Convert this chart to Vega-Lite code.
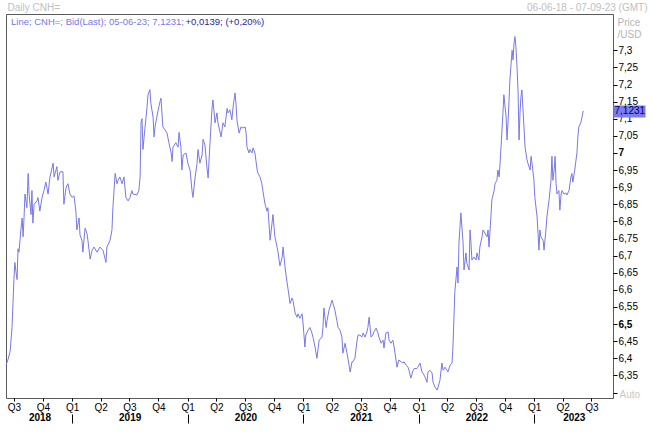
{
  "$schema": "https://vega.github.io/schema/vega-lite/v6.json",
  "width": 607,
  "height": 384,
  "autosize": {"type": "none"},
  "padding": {"left": 6, "top": 14, "right": 39, "bottom": 42},
  "background": "white",
  "config": {
    "font": "Liberation Sans",
    "view": {"stroke": "#5a5a5a", "strokeWidth": 1},
    "axis": {"grid": false, "domain": false, "labelFont": "Liberation Sans", "labelFontSize": 10, "labelColor": "#000000", "tickColor": "#000000", "labelOverlap": false, "labelFlush": false, "labelBound": false}
  },
  "resolve": {"axis": {"x": "independent", "y": "independent"}},
  "layer": [
    {
      "data": {"values": [
        {"date":"2018-06-06","price":6.38},{"date":"2018-06-12","price":6.395},{"date":"2018-06-19","price":6.42},{"date":"2018-06-25","price":6.49},{"date":"2018-06-28","price":6.56},{"date":"2018-07-01","price":6.63},{"date":"2018-07-04","price":6.68},{"date":"2018-07-08","price":6.65},{"date":"2018-07-11","price":6.63},{"date":"2018-07-14","price":6.72},{"date":"2018-07-17","price":6.71},{"date":"2018-07-23","price":6.775},{"date":"2018-07-27","price":6.81},{"date":"2018-07-30","price":6.755},{"date":"2018-08-02","price":6.81},{"date":"2018-08-05","price":6.88},{"date":"2018-08-11","price":6.84},{"date":"2018-08-15","price":6.94},{"date":"2018-08-18","price":6.88},{"date":"2018-08-24","price":6.82},{"date":"2018-08-27","price":6.89},{"date":"2018-08-30","price":6.795},{"date":"2018-09-03","price":6.85},{"date":"2018-09-12","price":6.86},{"date":"2018-09-15","price":6.87},{"date":"2018-09-21","price":6.83},{"date":"2018-09-28","price":6.87},{"date":"2018-10-04","price":6.89},{"date":"2018-10-10","price":6.915},{"date":"2018-10-17","price":6.88},{"date":"2018-10-23","price":6.93},{"date":"2018-11-02","price":6.97},{"date":"2018-11-05","price":6.93},{"date":"2018-11-14","price":6.96},{"date":"2018-11-17","price":6.92},{"date":"2018-11-24","price":6.945},{"date":"2018-12-03","price":6.945},{"date":"2018-12-06","price":6.85},{"date":"2018-12-13","price":6.9},{"date":"2018-12-19","price":6.91},{"date":"2018-12-25","price":6.88},
        {"date":"2019-01-01","price":6.87},{"date":"2019-01-07","price":6.875},{"date":"2019-01-13","price":6.83},{"date":"2019-01-16","price":6.775},{"date":"2019-01-23","price":6.81},{"date":"2019-01-26","price":6.76},{"date":"2019-02-01","price":6.745},{"date":"2019-02-04","price":6.71},{"date":"2019-02-11","price":6.78},{"date":"2019-02-17","price":6.765},{"date":"2019-02-20","price":6.745},{"date":"2019-02-27","price":6.69},{"date":"2019-03-05","price":6.715},{"date":"2019-03-11","price":6.725},{"date":"2019-03-21","price":6.71},{"date":"2019-03-30","price":6.725},{"date":"2019-04-09","price":6.715},{"date":"2019-04-18","price":6.68},{"date":"2019-04-21","price":6.725},{"date":"2019-05-01","price":6.745},{"date":"2019-05-07","price":6.775},{"date":"2019-05-10","price":6.84},{"date":"2019-05-17","price":6.94},{"date":"2019-05-23","price":6.91},{"date":"2019-05-26","price":6.92},{"date":"2019-06-01","price":6.93},{"date":"2019-06-08","price":6.91},{"date":"2019-06-14","price":6.93},{"date":"2019-06-20","price":6.87},{"date":"2019-06-27","price":6.86},{"date":"2019-07-03","price":6.87},{"date":"2019-07-09","price":6.89},{"date":"2019-07-12","price":6.88},{"date":"2019-07-25","price":6.877},{"date":"2019-07-31","price":6.89},{"date":"2019-08-04","price":6.93},{"date":"2019-08-07","price":7.09},{"date":"2019-08-10","price":7.1},{"date":"2019-08-13","price":7.01},{"date":"2019-08-19","price":7.07},{"date":"2019-08-26","price":7.135},{"date":"2019-08-29","price":7.17},{"date":"2019-09-04","price":7.185},{"date":"2019-09-07","price":7.145},{"date":"2019-09-14","price":7.105},{"date":"2019-09-17","price":7.047},{"date":"2019-09-20","price":7.076},{"date":"2019-09-26","price":7.105},{"date":"2019-09-30","price":7.125},{"date":"2019-10-06","price":7.15},{"date":"2019-10-09","price":7.16},{"date":"2019-10-12","price":7.117},{"date":"2019-10-15","price":7.076},{"date":"2019-10-22","price":7.067},{"date":"2019-10-28","price":7.058},{"date":"2019-11-03","price":7.03},{"date":"2019-11-10","price":7.0},{"date":"2019-11-13","price":6.975},{"date":"2019-11-16","price":7.017},{"date":"2019-11-25","price":7.03},{"date":"2019-12-02","price":7.017},{"date":"2019-12-05","price":7.06},{"date":"2019-12-11","price":7.017},{"date":"2019-12-14","price":6.95},{"date":"2019-12-18","price":6.994},{"date":"2019-12-27","price":7.0},
        {"date":"2020-01-02","price":6.97},{"date":"2020-01-09","price":6.95},{"date":"2020-01-15","price":6.89},{"date":"2020-01-18","price":6.87},{"date":"2020-01-25","price":6.93},{"date":"2020-01-31","price":6.97},{"date":"2020-02-03","price":7.01},{"date":"2020-02-09","price":6.97},{"date":"2020-02-16","price":6.994},{"date":"2020-02-19","price":7.04},{"date":"2020-02-25","price":7.023},{"date":"2020-03-02","price":6.96},{"date":"2020-03-06","price":6.927},{"date":"2020-03-12","price":7.03},{"date":"2020-03-18","price":7.126},{"date":"2020-03-21","price":7.155},{"date":"2020-03-28","price":7.088},{"date":"2020-04-03","price":7.117},{"date":"2020-04-06","price":7.088},{"date":"2020-04-16","price":7.047},{"date":"2020-04-22","price":7.088},{"date":"2020-04-28","price":7.076},{"date":"2020-05-05","price":7.13},{"date":"2020-05-08","price":7.117},{"date":"2020-05-14","price":7.126},{"date":"2020-05-20","price":7.097},{"date":"2020-05-24","price":7.135},{"date":"2020-05-30","price":7.175},{"date":"2020-06-02","price":7.146},{"date":"2020-06-05","price":7.097},{"date":"2020-06-12","price":7.058},{"date":"2020-06-18","price":7.076},{"date":"2020-06-24","price":7.073},{"date":"2020-07-01","price":7.076},{"date":"2020-07-04","price":7.058},{"date":"2020-07-07","price":7.017},{"date":"2020-07-13","price":7.0},{"date":"2020-07-16","price":7.01},{"date":"2020-07-23","price":7.0},{"date":"2020-07-26","price":7.015},{"date":"2020-08-01","price":7.0},{"date":"2020-08-08","price":6.95},{"date":"2020-08-11","price":6.94},{"date":"2020-08-17","price":6.93},{"date":"2020-08-23","price":6.91},{"date":"2020-08-26","price":6.89},{"date":"2020-09-02","price":6.85},{"date":"2020-09-08","price":6.83},{"date":"2020-09-11","price":6.84},{"date":"2020-09-18","price":6.745},{"date":"2020-09-24","price":6.795},{"date":"2020-09-27","price":6.82},{"date":"2020-10-03","price":6.755},{"date":"2020-10-10","price":6.725},{"date":"2020-10-13","price":6.71},{"date":"2020-10-19","price":6.67},{"date":"2020-10-26","price":6.695},{"date":"2020-10-29","price":6.725},{"date":"2020-11-04","price":6.667},{"date":"2020-11-10","price":6.625},{"date":"2020-11-14","price":6.6},{"date":"2020-11-20","price":6.56},{"date":"2020-11-26","price":6.576},{"date":"2020-11-29","price":6.57},{"date":"2020-12-06","price":6.532},{"date":"2020-12-12","price":6.52},{"date":"2020-12-15","price":6.53},{"date":"2020-12-21","price":6.517},{"date":"2020-12-28","price":6.53},{"date":"2020-12-31","price":6.503},
        {"date":"2021-01-06","price":6.433},{"date":"2021-01-09","price":6.468},{"date":"2021-01-16","price":6.482},{"date":"2021-01-22","price":6.49},{"date":"2021-01-28","price":6.474},{"date":"2021-02-01","price":6.46},{"date":"2021-02-07","price":6.433},{"date":"2021-02-13","price":6.4},{"date":"2021-02-20","price":6.453},{"date":"2021-03-01","price":6.462},{"date":"2021-03-04","price":6.49},{"date":"2021-03-07","price":6.547},{"date":"2021-03-14","price":6.49},{"date":"2021-03-17","price":6.51},{"date":"2021-03-23","price":6.54},{"date":"2021-04-02","price":6.57},{"date":"2021-04-05","price":6.56},{"date":"2021-04-11","price":6.54},{"date":"2021-04-17","price":6.51},{"date":"2021-04-21","price":6.49},{"date":"2021-04-27","price":6.482},{"date":"2021-05-03","price":6.462},{"date":"2021-05-06","price":6.415},{"date":"2021-05-13","price":6.444},{"date":"2021-05-19","price":6.415},{"date":"2021-05-22","price":6.4},{"date":"2021-05-29","price":6.36},{"date":"2021-06-04","price":6.39},{"date":"2021-06-07","price":6.39},{"date":"2021-06-13","price":6.4},{"date":"2021-06-20","price":6.453},{"date":"2021-06-23","price":6.468},{"date":"2021-06-29","price":6.468},{"date":"2021-07-05","price":6.462},{"date":"2021-07-09","price":6.474},{"date":"2021-07-15","price":6.462},{"date":"2021-07-21","price":6.477},{"date":"2021-07-24","price":6.49},{"date":"2021-07-28","price":6.52},{"date":"2021-08-03","price":6.462},{"date":"2021-08-09","price":6.468},{"date":"2021-08-12","price":6.477},{"date":"2021-08-19","price":6.488},{"date":"2021-08-25","price":6.474},{"date":"2021-08-28","price":6.462},{"date":"2021-09-04","price":6.444},{"date":"2021-09-10","price":6.453},{"date":"2021-09-13","price":6.43},{"date":"2021-09-19","price":6.474},{"date":"2021-09-26","price":6.477},{"date":"2021-09-29","price":6.453},{"date":"2021-10-05","price":6.444},{"date":"2021-10-11","price":6.453},{"date":"2021-10-15","price":6.433},{"date":"2021-10-21","price":6.395},{"date":"2021-10-24","price":6.374},{"date":"2021-10-30","price":6.395},{"date":"2021-11-06","price":6.39},{"date":"2021-11-12","price":6.386},{"date":"2021-11-15","price":6.39},{"date":"2021-11-22","price":6.38},{"date":"2021-11-28","price":6.374},{"date":"2021-12-01","price":6.365},{"date":"2021-12-07","price":6.342},{"date":"2021-12-14","price":6.365},{"date":"2021-12-17","price":6.37},{"date":"2021-12-26","price":6.37},{"date":"2021-12-29","price":6.374},
        {"date":"2022-01-05","price":6.386},{"date":"2022-01-11","price":6.36},{"date":"2022-01-14","price":6.357},{"date":"2022-01-21","price":6.345},{"date":"2022-01-27","price":6.33},{"date":"2022-01-30","price":6.36},{"date":"2022-02-05","price":6.365},{"date":"2022-02-12","price":6.357},{"date":"2022-02-15","price":6.33},{"date":"2022-02-21","price":6.316},{"date":"2022-02-28","price":6.307},{"date":"2022-03-03","price":6.316},{"date":"2022-03-09","price":6.336},{"date":"2022-03-15","price":6.386},{"date":"2022-03-19","price":6.365},{"date":"2022-03-25","price":6.374},{"date":"2022-03-31","price":6.365},{"date":"2022-04-03","price":6.36},{"date":"2022-04-10","price":6.38},{"date":"2022-04-16","price":6.386},{"date":"2022-04-19","price":6.433},{"date":"2022-04-25","price":6.595},{"date":"2022-05-02","price":6.667},{"date":"2022-05-05","price":6.62},{"date":"2022-05-08","price":6.737},{"date":"2022-05-11","price":6.78},{"date":"2022-05-14","price":6.825},{"date":"2022-05-18","price":6.775},{"date":"2022-05-21","price":6.737},{"date":"2022-05-24","price":6.658},{"date":"2022-05-30","price":6.708},{"date":"2022-06-02","price":6.678},{"date":"2022-06-09","price":6.658},{"date":"2022-06-12","price":6.775},{"date":"2022-06-15","price":6.737},{"date":"2022-06-18","price":6.687},{"date":"2022-06-25","price":6.696},{"date":"2022-07-01","price":6.687},{"date":"2022-07-04","price":6.708},{"date":"2022-07-10","price":6.687},{"date":"2022-07-13","price":6.725},{"date":"2022-07-20","price":6.755},{"date":"2022-07-23","price":6.775},{"date":"2022-07-29","price":6.766},{"date":"2022-08-05","price":6.755},{"date":"2022-08-08","price":6.775},{"date":"2022-08-11","price":6.725},{"date":"2022-08-17","price":6.813},{"date":"2022-08-20","price":6.863},{"date":"2022-08-27","price":6.89},{"date":"2022-08-30","price":6.91},{"date":"2022-09-05","price":6.92},{"date":"2022-09-08","price":6.95},{"date":"2022-09-12","price":6.93},{"date":"2022-09-15","price":6.97},{"date":"2022-09-18","price":7.017},{"date":"2022-09-21","price":7.067},{"date":"2022-09-24","price":7.117},{"date":"2022-09-27","price":7.17},{"date":"2022-10-04","price":7.105},{"date":"2022-10-07","price":7.038},{"date":"2022-10-10","price":7.088},{"date":"2022-10-13","price":7.146},{"date":"2022-10-16","price":7.213},{"date":"2022-10-20","price":7.263},{"date":"2022-10-23","price":7.3},{"date":"2022-10-26","price":7.272},{"date":"2022-10-29","price":7.32},{"date":"2022-11-01","price":7.34},{"date":"2022-11-04","price":7.31},{"date":"2022-11-08","price":7.243},{"date":"2022-11-11","price":7.175},{"date":"2022-11-14","price":7.038},{"date":"2022-11-17","price":7.117},{"date":"2022-11-20","price":7.164},{"date":"2022-11-23","price":7.184},{"date":"2022-11-26","price":7.135},{"date":"2022-11-30","price":7.067},{"date":"2022-12-03","price":7.017},{"date":"2022-12-09","price":6.98},{"date":"2022-12-12","price":6.97},{"date":"2022-12-19","price":6.95},{"date":"2022-12-22","price":6.99},{"date":"2022-12-25","price":6.97},{"date":"2022-12-31","price":6.92},
        {"date":"2023-01-03","price":6.87},{"date":"2023-01-10","price":6.813},{"date":"2023-01-13","price":6.766},{"date":"2023-01-16","price":6.716},{"date":"2023-01-19","price":6.775},{"date":"2023-01-22","price":6.755},{"date":"2023-01-29","price":6.745},{"date":"2023-02-01","price":6.716},{"date":"2023-02-07","price":6.775},{"date":"2023-02-10","price":6.813},{"date":"2023-02-17","price":6.863},{"date":"2023-02-23","price":6.92},{"date":"2023-02-26","price":6.99},{"date":"2023-03-01","price":6.92},{"date":"2023-03-05","price":6.95},{"date":"2023-03-08","price":6.99},{"date":"2023-03-11","price":6.91},{"date":"2023-03-14","price":6.88},{"date":"2023-03-20","price":6.89},{"date":"2023-03-23","price":6.833},{"date":"2023-03-27","price":6.88},{"date":"2023-03-30","price":6.89},{"date":"2023-04-05","price":6.88},{"date":"2023-04-11","price":6.883},{"date":"2023-04-14","price":6.877},{"date":"2023-04-21","price":6.89},{"date":"2023-04-27","price":6.93},{"date":"2023-04-30","price":6.94},{"date":"2023-05-03","price":6.915},{"date":"2023-05-09","price":6.95},{"date":"2023-05-16","price":7.0},{"date":"2023-05-19","price":7.047},{"date":"2023-05-22","price":7.076},{"date":"2023-05-28","price":7.088},{"date":"2023-06-01","price":7.105},{"date":"2023-06-05","price":7.1231}
      ]},
      "mark": {"type": "line", "strokeWidth": 1},
      "encoding": {
        "x": {
          "field": "date", "type": "temporal",
          "scale": {"type": "utc", "domain": [{"year": 2018, "month": 6, "date": 6, "utc": true}, {"year": 2023, "month": 9, "date": 7, "utc": true}]},
          "axis": {
            "orient": "bottom", "offset": 0, "title": null,
            "values": [
              {"year": 2018, "month": 7, "date": 1, "utc": true}, {"year": 2018, "month": 10, "date": 1, "utc": true},
              {"year": 2019, "month": 1, "date": 1, "utc": true}, {"year": 2019, "month": 4, "date": 1, "utc": true}, {"year": 2019, "month": 7, "date": 1, "utc": true}, {"year": 2019, "month": 10, "date": 1, "utc": true},
              {"year": 2020, "month": 1, "date": 1, "utc": true}, {"year": 2020, "month": 4, "date": 1, "utc": true}, {"year": 2020, "month": 7, "date": 1, "utc": true}, {"year": 2020, "month": 10, "date": 1, "utc": true},
              {"year": 2021, "month": 1, "date": 1, "utc": true}, {"year": 2021, "month": 4, "date": 1, "utc": true}, {"year": 2021, "month": 7, "date": 1, "utc": true}, {"year": 2021, "month": 10, "date": 1, "utc": true},
              {"year": 2022, "month": 1, "date": 1, "utc": true}, {"year": 2022, "month": 4, "date": 1, "utc": true}, {"year": 2022, "month": 7, "date": 1, "utc": true}, {"year": 2022, "month": 10, "date": 1, "utc": true},
              {"year": 2023, "month": 1, "date": 1, "utc": true}, {"year": 2023, "month": 4, "date": 1, "utc": true}, {"year": 2023, "month": 7, "date": 1, "utc": true}
            ],
            "labelExpr": "'Q' + (floor(utcmonth(datum.value) / 3) + 1)",
            "tickSize": 3, "labelPadding": 1
          }
        },
        "y": {
          "field": "price", "type": "quantitative",
          "scale": {"domain": [6.284, 7.406], "nice": false, "zero": false},
          "axis": {
            "orient": "right",
            "values": [6.3, 6.35, 6.4, 6.45, 6.5, 6.55, 6.6, 6.65, 6.7, 6.75, 6.8, 6.85, 6.9, 6.95, 7, 7.05, 7.1, 7.15, 7.2, 7.25, 7.3],
            "tickSize": 4, "labelPadding": 1, "labelBaseline": "middle",
            "labelExpr": "datum.value < 6.32 ? '' : replace(format(datum.value, '.2~f'), '.', ',')",
            "labelFontWeight": {"condition": {"test": "datum.value == 7 || datum.value == 6.5", "value": "bold"}, "value": "normal"},
            "title": ["Price", "/USD"], "titleAngle": 0, "titleAlign": "left", "titleBaseline": "top",
            "titleX": 4, "titleY": 3, "titleColor": "#b4b4b4", "titleFontWeight": "normal", "titleFontSize": 10, "titleLineHeight": 12, "titleFont": "Liberation Sans"
          }
        },
        "color": {
          "datum": "+0,0139; (+0,20%)",
          "scale": {"range": ["#7878e8"]},
          "legend": {
            "title": "Line; CNH=; Bid(Last); 05-06-23; 7,1231;", "titleOrient": "left",
            "orient": "none", "legendX": 5, "legendY": 3,
            "titleColor": "#7878e8", "labelColor": "#1e1ea0",
            "titleFontWeight": "normal", "titleFontSize": 9.5, "labelFontSize": 9.5,
            "titleFont": "Liberation Sans", "labelFont": "Liberation Sans",
            "symbolSize": 0, "symbolStrokeWidth": 0, "symbolOpacity": 0,
            "labelOffset": 0, "titlePadding": -8, "padding": 0, "titleLimit": 400, "labelLimit": 300
          }
        }
      }
    },
    {
      "data": {"values": [{"date": "2023-06-05", "price": 7.1231}]},
      "mark": {"type": "point", "opacity": 0},
      "encoding": {
        "x": {
          "field": "date", "type": "temporal",
          "scale": {"type": "utc", "domain": [{"year": 2018, "month": 6, "date": 6, "utc": true}, {"year": 2023, "month": 9, "date": 7, "utc": true}]},
          "axis": {
            "orient": "bottom", "offset": 14, "ticks": false, "labelPadding": 0,
            "labelFontWeight": "bold",
            "values": [
              {"year": 2018, "month": 9, "date": 20, "utc": true}, {"year": 2019, "month": 7, "date": 2, "utc": true}, {"year": 2020, "month": 7, "date": 2, "utc": true},
              {"year": 2021, "month": 7, "date": 2, "utc": true}, {"year": 2022, "month": 7, "date": 2, "utc": true}, {"year": 2023, "month": 5, "date": 6, "utc": true}
            ],
            "labelExpr": "'' + utcyear(datum.value)",
            "title": "Daily CNH=", "titleX": 1, "titleY": -405, "titleAlign": "left", "titleBaseline": "middle",
            "titleAngle": 0, "titleColor": "#c0c0c0", "titleFontWeight": "normal", "titleFontSize": 10, "titleFont": "Liberation Sans"
          }
        },
        "y": {
          "field": "price", "type": "quantitative",
          "scale": {"domain": [6.284, 7.406], "nice": false, "zero": false},
          "axis": {
            "orient": "right", "values": [7.1231],
            "tickSize": 32, "tickWidth": 12, "tickColor": "#7c7cf0", "tickCap": "butt",
            "labelPadding": -31, "labelBaseline": "middle", "labelAlign": "left", "labelColor": "#000060",
            "labelExpr": "replace(format(datum.value, '.4f'), '.', ',')",
            "title": "Auto", "titleX": 6, "titleY": 380, "titleAngle": 0, "titleAlign": "left", "titleBaseline": "middle",
            "titleColor": "#c8c8c8", "titleFontWeight": "normal", "titleFontSize": 10, "titleFont": "Liberation Sans"
          }
        }
      }
    },
    {
      "data": {"values": [{"date": "2023-06-05", "price": 7.1231}]},
      "mark": {"type": "point", "opacity": 0},
      "encoding": {
        "x": {
          "field": "date", "type": "temporal",
          "scale": {"type": "utc", "domain": [{"year": 2018, "month": 6, "date": 6, "utc": true}, {"year": 2023, "month": 9, "date": 7, "utc": true}]},
          "axis": {
            "orient": "bottom", "offset": 16, "labels": false, "tickSize": 9,
            "values": [
              {"year": 2019, "month": 1, "date": 1, "utc": true}, {"year": 2020, "month": 1, "date": 1, "utc": true}, {"year": 2021, "month": 1, "date": 1, "utc": true},
              {"year": 2022, "month": 1, "date": 1, "utc": true}, {"year": 2023, "month": 1, "date": 1, "utc": true}
            ],
            "title": "06-06-18 - 07-09-23 (GMT)", "titleX": 641, "titleY": -407, "titleAlign": "right", "titleBaseline": "middle",
            "titleAngle": 0, "titleColor": "#c0c0c0", "titleFontWeight": "normal", "titleFontSize": 10, "titleFont": "Liberation Sans"
          }
        },
        "y": {
          "field": "price", "type": "quantitative",
          "scale": {"domain": [6.284, 7.406], "nice": false, "zero": false},
          "axis": null
        }
      }
    }
  ]
}
